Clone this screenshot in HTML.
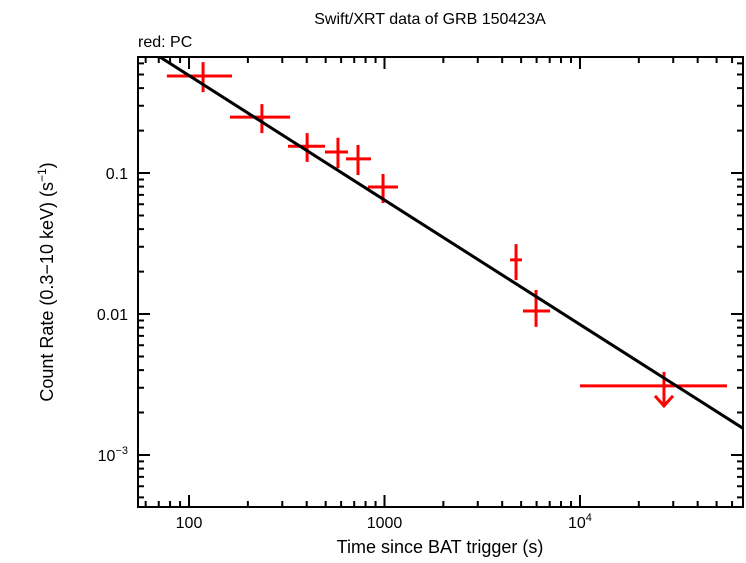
<!DOCTYPE html>
<html><head><meta charset="utf-8"><style>
body{margin:0;background:#fff}
svg text{font-family:"Liberation Sans",sans-serif;fill:#000}
</style></head><body>
<svg id="chart" width="746" height="558" xmlns="http://www.w3.org/2000/svg">
<text x="430" y="24" font-size="16" text-anchor="middle">Swift/XRT data of GRB 150423A</text>
<text x="138" y="47" font-size="16">red: PC</text>
<text x="440" y="553" font-size="18" text-anchor="middle">Time since BAT trigger (s)</text>
<text transform="translate(53,282) rotate(-90)" font-size="18" text-anchor="middle">Count Rate (0.3−10 keV) (s<tspan dy="-7" font-size="12">−1</tspan><tspan dy="7">)</tspan></text>
<g id="ticks"></g><g id="marks"></g>
<rect x="138" y="57" width="605" height="450" fill="none" stroke="#000" stroke-width="2"/>
</svg>
<script>
const times=[118,236,402,578,732,983,4710,5960];
const tLo=[77,162,321,496,635,823,4390,5110];
const tHi=[166,329,496,651,853,1172,5050,7030];
const rates=[0.488,0.249,0.155,0.141,0.126,0.0796,0.0242,0.0105];
const rLo=[0.375,0.192,0.120,0.108,0.0968,0.0613,0.0174,0.0081];
const rHi=[0.612,0.308,0.192,0.178,0.158,0.0984,0.0313,0.0148];
const ulTime=[26900],ulLo=[10000],ulHi=[56500],ulRate=[0.00309];
const fitNorm=0.665,fitT0=71,fitIndex=-0.883;
const xTickVals=[100,1000,10000];
const xTickLabels=["100","1000","10^4"];
const yTickVals=[0.1,0.01,0.001];
const yTickLabels=["0.1","0.01","10^-3"];
const X0=138,X1=743,Y0=57,Y1=507,LX0=1.739,LX1=4.834,LY0=-0.177,LY1=-3.369;
const xs=t=>X0+(Math.log10(t)-LX0)/(LX1-LX0)*(X1-X0);
const ys=r=>Y0+(Math.log10(r)-LY0)/(LY1-LY0)*(Y1-Y0);
const NS="http://www.w3.org/2000/svg";
function mk(tag,attrs,parent){const e=document.createElementNS(NS,tag);for(const k in attrs)e.setAttribute(k,attrs[k]);parent.appendChild(e);return e;}
const tg=document.getElementById('ticks'),mg=document.getElementById('marks');
function label(txt,x,y,anchor){const t=mk('text',{x:x,y:y,'font-size':16,'text-anchor':anchor},tg);
 if(txt.includes('^')){const [b,e]=txt.split('^');t.textContent=b;const s=mk('tspan',{dy:-7,'font-size':11},t);s.textContent=e.replace('-','−');}else t.textContent=txt;
 
 }
for(let d=1;d<=4;d++)for(let m=1;m<10;m++){const v=m*Math.pow(10,d);const x=xs(v);if(x<X0||x>X1)continue;const L=m==1?12:6;
 const a=mk('path',{d:`M${x},${Y1}v${-L}M${x},${Y0}v${L}`,stroke:'#000','stroke-width':2},tg);
 
 }
for(let d=-4;d<=0;d++)for(let m=1;m<10;m++){const v=m*Math.pow(10,d);const y=ys(v);if(y<Y0||y>Y1)continue;const L=m==1?12:6;
 const a=mk('path',{d:`M${X0},${y}h${L}M${X1},${y}h${-L}`,stroke:'#000','stroke-width':2},tg);
 
 }
xTickVals.forEach((v,i)=>label(xTickLabels[i],xs(v),528,'middle'));
yTickVals.forEach((v,i)=>label(yTickLabels[i],ys(v)+6>0?128:128,ys(v)+6,'end'));
times.forEach((t,i)=>{const g=mk('path',{d:`M${xs(tLo[i])},${ys(rates[i])}H${xs(tHi[i])}M${xs(t)},${ys(rLo[i])}V${ys(rHi[i])}`,stroke:'#f00','stroke-width':3,fill:'none'},mg);
 
 });
ulTime.forEach((t,i)=>{const x=xs(t),y=ys(ulRate[i]);const g=mk('path',{d:`M${xs(ulLo[i])},${y}H${xs(ulHi[i])}M${x},${y-14}V${y+20}M${x-9},${y+10}L${x},${y+20}L${x+9},${y+10}`,stroke:'#f00','stroke-width':3,fill:'none'},mg);
 
 });
const fit=t=>fitNorm*Math.pow(t/fitT0,fitIndex);
const tA=fitT0,tB=Math.pow(10,LX1);
const ln=mk('line',{x1:xs(tA),y1:ys(fit(tA)),x2:xs(tB),y2:ys(fit(tB)),stroke:'#000','stroke-width':3},mg);


</script>
</body></html>
